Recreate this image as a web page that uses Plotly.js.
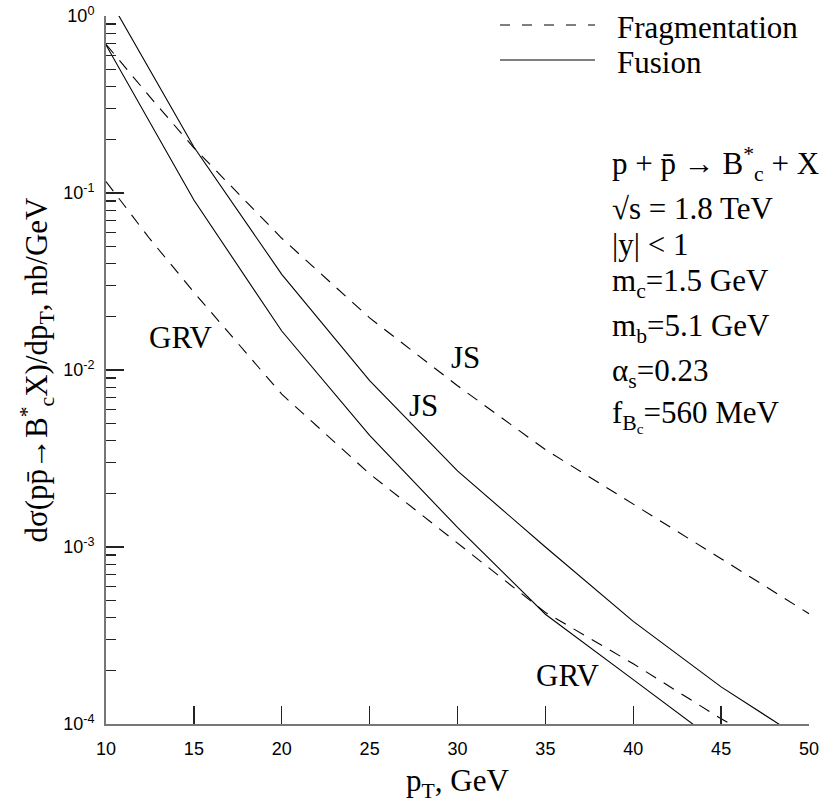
<!DOCTYPE html>
<html>
<head>
<meta charset="utf-8">
<script src="https://cdn.plot.ly/plotly-3.0.1.min.js"></script>
<style>html,body{margin:0;padding:0;background:#fff;}#chart{width:828px;height:807px;}</style>
</head>
<body>
<div id="chart"></div>
<script>
// ---- data ----
const pT = [10, 12.5, 15, 20, 25, 30, 35, 40, 45, 50];
const fusionJS  = [1.343, 0.495, 0.182, 0.0347, 0.00871, 0.00269, 0.00100, 0.000380, 0.000162, 0.0000776];
const fusionGRV = [0.686, 0.251, 0.0912, 0.0166, 0.00427, 0.00129, 0.000417, 0.000178, 0.0000759, 0.0000355];
const fragJS    = [0.692, 0.349, 0.180, 0.0555, 0.0197, 0.00815, 0.00355, 0.00175, 0.000859, 0.00042];
const fragGRV   = [0.116, 0.055, 0.0275, 0.0073, 0.00259, 0.00105, 0.000427, 0.000219, 0.000107, 0.0000562];

const xTicks = [10, 15, 20, 25, 30, 35, 40, 45, 50];
const yTicks = [1e-4, 1e-3, 1e-2, 1e-1, 1];
const yTickText = ['10<sup>-4</sup>', '10<sup>-3</sup>', '10<sup>-2</sup>', '10<sup>-1</sup>', '10<sup>0</sup>'];
const yMinor = [];
for (let e = -4; e < 0; e++) for (let m = 2; m <= 9; m++) yMinor.push(m * Math.pow(10, e));

const curveLabels = [
  {text: 'GRV', x: 14.27, y: 0.0152},
  {text: 'JS',  x: 30.43, y: 0.01183},
  {text: 'JS',  x: 28.09, y: 0.00627},
  {text: 'GRV', x: 36.29, y: 0.000187}
];
const infoLines = [
  'p + p\u0304 \u2192 B<sup>*</sup><sub>c</sub> + X',
  '\u221As = 1.8 TeV',
  '|y| < 1',
  'm<sub>c</sub>=1.5 GeV',
  'm<sub>b</sub>=5.1 GeV',
  '\u03B1<sub>s</sub>=0.23',
  'f<sub>B<sub>c</sub></sub>=560 MeV'
];
const legendNames = ['Fragmentation', 'Fusion'];

// ---- styles ----
const serif = 'Liberation Serif, Times New Roman, serif';
const sans = 'Liberation Sans, Arial, sans-serif';
const lineBase = {color: '#000', width: 1.1};
const dash = '12px,9px';

const traces = [
  {x: pT, y: fragJS,   mode: 'lines', line: Object.assign({}, lineBase, {dash: dash}), name: legendNames[0] + ' JS'},
  {x: pT, y: fragGRV,  mode: 'lines', line: Object.assign({}, lineBase, {dash: dash}), name: legendNames[0] + ' GRV'},
  {x: pT, y: fusionJS, mode: 'lines', line: lineBase, name: legendNames[1] + ' JS'},
  {x: pT, y: fusionGRV,mode: 'lines', line: lineBase, name: legendNames[1] + ' GRV'}
];

const pxX = px => (px - 106) / 703;
const pxY = py => (724 - py) / 708;

const annotations = [];
curveLabels.forEach(c => annotations.push({
  text: c.text, x: c.x, y: Math.log10(c.y), xref: 'x', yref: 'y',
  showarrow: false, xanchor: 'center', yanchor: 'middle',
  font: {family: serif, size: 31, color: '#000'}
}));
const infoY = [164, 208, 244, 283, 328, 373, 416];
infoLines.forEach((t, i) => annotations.push({
  text: t, x: pxX(610), y: pxY(infoY[i]), xref: 'paper', yref: 'paper',
  showarrow: false, xanchor: 'left', yanchor: 'middle',
  font: {family: serif, size: 31, color: '#000'}
}));
const legY = [28, 62];
legendNames.forEach((t, i) => annotations.push({
  text: t, x: pxX(615), y: pxY(legY[i]), xref: 'paper', yref: 'paper',
  showarrow: false, xanchor: 'left', yanchor: 'middle',
  font: {family: serif, size: 31, color: '#000'}
}));

const shapes = [
  {type: 'line', xref: 'paper', yref: 'paper', x0: pxX(500), x1: pxX(595), y0: pxY(25), y1: pxY(25),
   line: {color: '#000', width: 1.1, dash: '10px,12px'}},
  {type: 'line', xref: 'paper', yref: 'paper', x0: pxX(500), x1: pxX(595), y0: pxY(60), y1: pxY(60),
   line: {color: '#000', width: 1.1}}
];

const layout = {
  width: 828, height: 807,
  margin: {l: 106, r: 19, t: 16, b: 83},
  paper_bgcolor: '#fff', plot_bgcolor: '#fff',
  showlegend: false,
  xaxis: {
    range: [10, 50], tickmode: 'array', tickvals: xTicks, ticktext: xTicks.map(String),
    ticks: 'inside', ticklen: 18, tickwidth: 1.3, tickcolor: '#222',
    showline: true, linecolor: '#777', linewidth: 2, showgrid: false, zeroline: false,
    ticklabelstandoff: 7,
    tickfont: {family: sans, size: 18, color: '#000'},
    title: {text: 'p<sub>T</sub>, GeV', font: {family: serif, size: 31, color: '#000'}, standoff: 12}
  },
  yaxis: {
    type: 'log', range: [-4, 0], tickmode: 'array', tickvals: yTicks, ticktext: yTickText,
    ticks: 'inside', ticklen: 18, tickwidth: 1.3, tickcolor: '#222',
    minor: {tickmode: 'array', tickvals: yMinor, ticks: 'inside', ticklen: 10, tickwidth: 1.3, tickcolor: '#222', showgrid: false},
    showline: true, linecolor: '#777', linewidth: 2, showgrid: false, zeroline: false,
    ticklabelstandoff: 6,
    tickfont: {family: sans, size: 18, color: '#000'},
    title: {text: 'd\u03C3(pp\u0304\u2192B<sup>*</sup><sub>c</sub>X)/dp<sub>T</sub>, nb/GeV', font: {family: serif, size: 31, color: '#000'}, standoff: 6}
  },
  annotations: annotations,
  shapes: shapes
};

Plotly.newPlot('chart', traces, layout, {displayModeBar: false, staticPlot: true});
</script>
</body>
</html>
